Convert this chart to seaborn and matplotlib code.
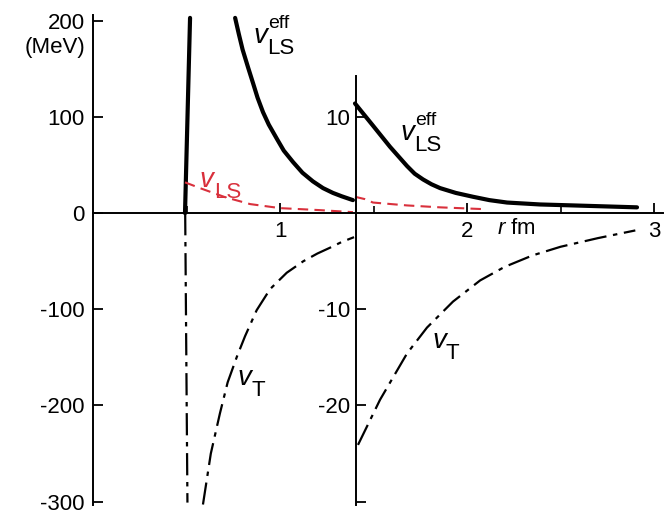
import matplotlib
matplotlib.use("Agg")
import matplotlib.pyplot as plt
import seaborn as sns

# --- dados (r em fm, V em MeV; inserção em unidades da escala ampliada) ---
core_r = [0.492, 0.519]
core_v = [0, 203]
vt_core_r = [0.493, 0.505]
vt_core_v = [0, -301]

veff_r = [0.76, 0.78, 0.80, 0.83, 0.856, 0.88, 0.909, 0.94, 0.984, 1.02, 1.07,
          1.12, 1.176, 1.23, 1.283, 1.33, 1.39]
veff_v = [203, 186, 170, 151, 135, 120, 105, 92, 77, 65, 53, 42, 33, 26, 21, 17.5, 13.5]

vls_r = [0.492, 0.572, 0.706, 0.84, 1.0, 1.214, 1.39]
vls_v = [32, 26, 16.6, 9.4, 5.2, 3.1, 1.0]

vt_r = [0.588, 0.63, 0.679, 0.72, 0.77, 0.813, 0.875, 0.947, 1.036, 1.125, 1.2,
        1.267, 1.33, 1.396]
vt_v = [-303, -250, -208, -176, -149, -128, -101, -79, -62, -50, -42, -36, -30, -25]

# escala ampliada (lado direito)
veff_in_r = [1.401, 1.497, 1.588, 1.679, 1.72, 1.765, 1.81, 1.856, 1.94, 2.032,
             2.12, 2.214, 2.39, 2.567, 2.909]
veff_in_v = [11.4, 9.1, 6.9, 4.9, 4.1, 3.5, 3.0, 2.6, 2.1, 1.7, 1.35, 1.1, 0.9, 0.8, 0.6]

vls_in_r = [1.401, 1.455, 1.497, 1.679, 1.856, 2.107]
vls_in_v = [1.7, 1.45, 1.1, 0.8, 0.6, 0.4]

vt_in_r = [1.417, 1.535, 1.679, 1.786, 1.925, 2.07, 2.20, 2.35, 2.50, 2.70, 2.90]
vt_in_v = [-24.1, -19.4, -14.6, -11.9, -9.2, -7.0, -5.6, -4.4, -3.5, -2.6, -1.8]

y_ticks = [-300, -200, -100, 0, 100, 200]
y_ticks_in = [10, -10, -20, -30]
y_labels_in = ["10", "-10", "-20", ""]

RED = "#d9303c"
DASHDOT = (0, (10, 3, 2, 3))

sns.set_theme(style="white")
plt.rcParams["font.family"] = ["Liberation Sans", "DejaVu Sans"]
plt.rcParams["axes.unicode_minus"] = False
plt.rcParams["mathtext.fontset"] = "custom"
plt.rcParams["mathtext.it"] = "Liberation Sans:italic"
plt.rcParams["mathtext.rm"] = "Liberation Sans"
for k in ["text.color", "xtick.color", "ytick.color", "axes.edgecolor"]:
    plt.rcParams[k] = "black"

fig = plt.figure(figsize=(6.66, 5.16), dpi=100)
ax = fig.add_axes([93 / 666, 11 / 516, 570 / 666, 490 / 516])
ax2 = ax.twinx()

# curvas na escala principal
sns.lineplot(x=core_r, y=core_v, ax=ax, color="black", lw=3, sort=False, estimator=None)
sns.lineplot(x=vt_core_r, y=vt_core_v, ax=ax, color="black", lw=1.6,
             linestyle=DASHDOT, sort=False, estimator=None)
sns.lineplot(x=veff_r, y=veff_v, ax=ax, color="black", lw=3, sort=False, estimator=None)
sns.lineplot(x=vls_r, y=vls_v, ax=ax, color=RED, lw=1.5, linestyle=(0, (5, 3)),
             sort=False, estimator=None)
sns.lineplot(x=vt_r, y=vt_v, ax=ax, color="black", lw=1.6, linestyle=DASHDOT,
             sort=False, estimator=None)

# curvas na escala ampliada
sns.lineplot(x=veff_in_r, y=veff_in_v, ax=ax2, color="black", lw=3, sort=False, estimator=None)
sns.lineplot(x=vls_in_r, y=vls_in_v, ax=ax2, color=RED, lw=1.5, linestyle=(0, (5, 3)),
             sort=False, estimator=None)
sns.lineplot(x=vt_in_r, y=vt_in_v, ax=ax2, color="black", lw=1.6, linestyle=DASHDOT,
             sort=False, estimator=None)

# eixos principais
ax.set_xlim(0, 3.048)
ax.set_ylim(-303.5, 206)
ax.spines["top"].set_visible(False)
ax.spines["right"].set_visible(False)
ax.spines["bottom"].set_position(("data", 0))
for s in ["left", "bottom"]:
    ax.spines[s].set_linewidth(1.4)
ax.set_xticks([1, 2, 3])
ax.set_xticklabels(["1", "2", "3"])
ax.set_xticks([0.5, 1.5, 2.5], minor=True)
ax.set_yticks(y_ticks)
ax.set_yticklabels([str(v) for v in y_ticks])
ax.tick_params(axis="x", which="major", bottom=True, direction="in", length=7,
               width=1.3, pad=6, labelsize=16)
ax.tick_params(axis="x", which="minor", bottom=True, direction="in", length=5, width=1.2)
ax.tick_params(axis="y", left=True, direction="in", length=7, width=1.3, pad=6,
               labelsize=16)
ax.set_xlabel("")
ax.set_ylabel("")

# eixo ampliado
ax2.set_ylim(-30.35, 20.6)
for s in ["top", "bottom", "right"]:
    ax2.spines[s].set_visible(False)
ax2.spines["left"].set_visible(True)
ax2.spines["left"].set_position(("data", 1.406))
ax2.spines["left"].set_bounds(-30.35, 14.3)
ax2.spines["left"].set_linewidth(1.4)
ax2.yaxis.set_ticks_position("left")
ax2.set_yticks(y_ticks_in)
ax2.set_yticklabels(y_labels_in)
ax2.tick_params(axis="y", left=True, right=False, direction="in", length=7, width=1.3,
                pad=4, labelsize=16)
ax2.set_ylabel("")

# textos
ax.text(-0.014, 172.6, "(MeV)", transform=ax.get_yaxis_transform(), ha="right",
        va="center", fontsize=16)
ax.text(2.16, -5, r"$r$ fm", ha="left", va="top", fontsize=16)


def rotulo(x, y, sub, sup=None, color="black"):
    ax.annotate("v", xy=(x, y), xytext=(0, 0), textcoords="offset points",
                fontsize=20, style="italic", color=color, va="baseline", ha="left")
    ax.annotate(sub, xy=(x, y), xytext=(10, -8), textcoords="offset points",
                fontsize=16, color=color, va="baseline", ha="left")
    if sup:
        ax.annotate(sup, xy=(x, y), xytext=(11, 11), textcoords="offset points",
                    fontsize=14, color=color, va="baseline", ha="left")


rotulo(0.856, 176.7, "LS", "eff")
rotulo(1.642, 75.9, "LS", "eff")
rotulo(0.572, 27, "LS", color=RED)
rotulo(0.775, -178.8, "T")
rotulo(1.813, -140.3, "T")

fig.savefig("out.png", dpi=100)
